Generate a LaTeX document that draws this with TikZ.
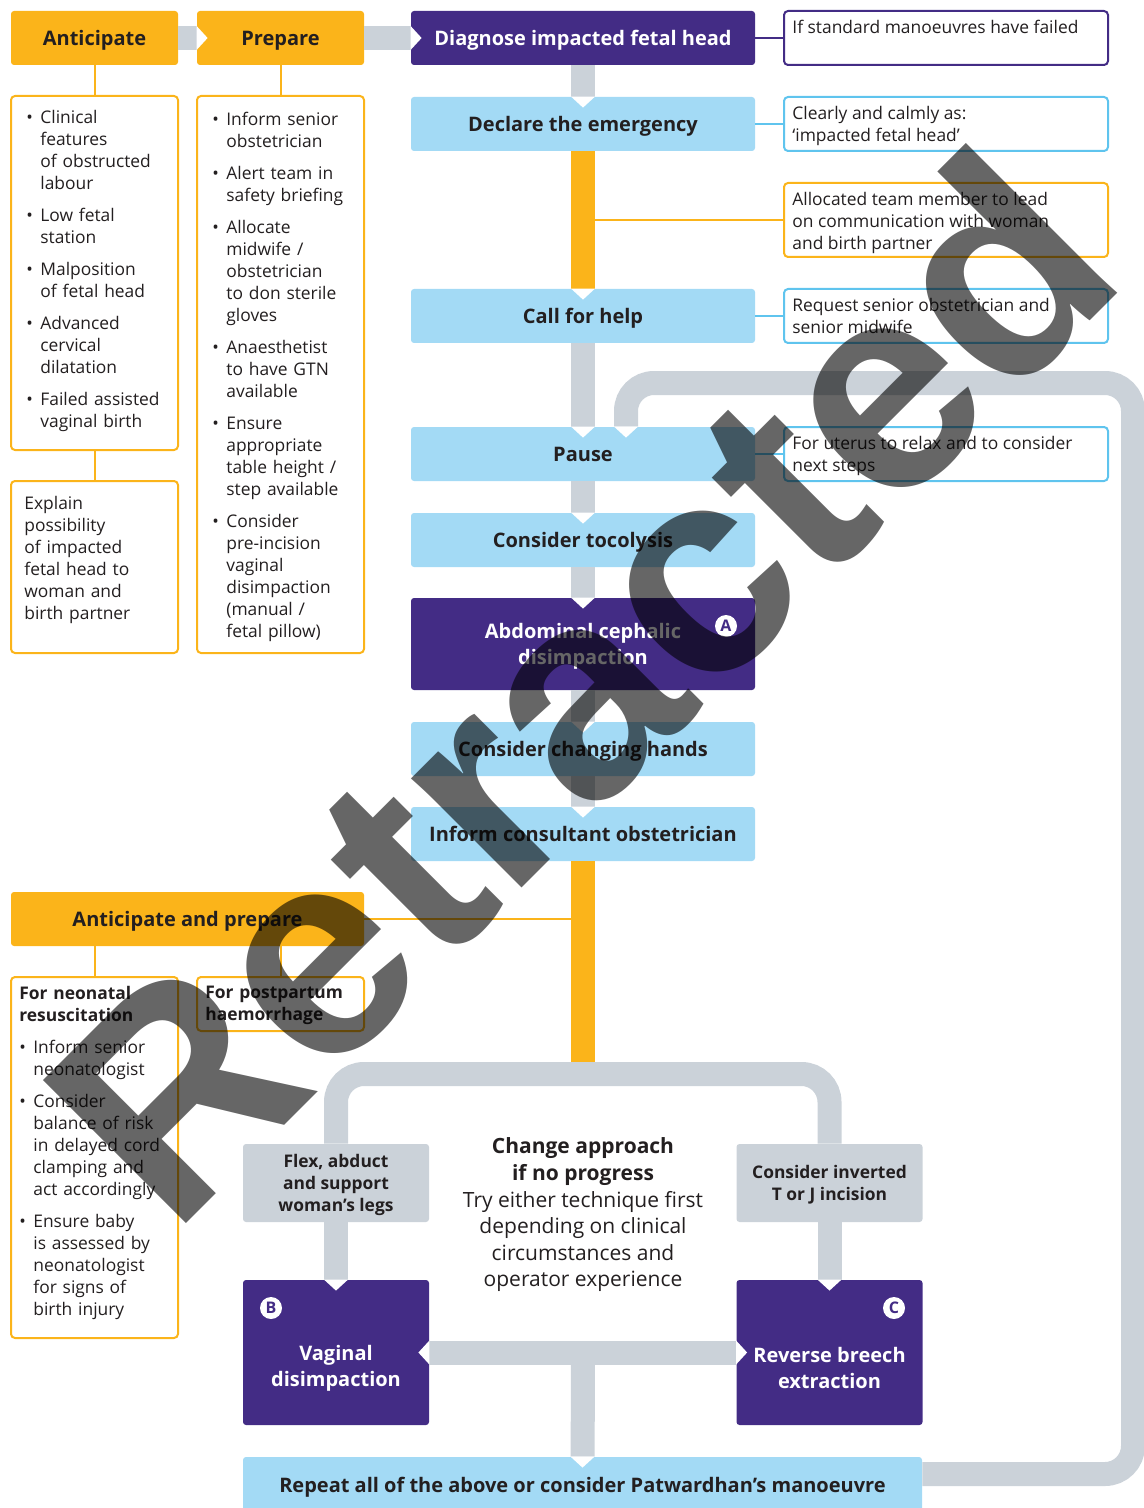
\documentclass[tikz,border=0pt]{standalone}
\usepackage{fontspec}
\setmainfont{Open Sans}
\newfontfamily\stampfont{Liberation Sans}
\usetikzlibrary{positioning}

\definecolor{ifhorange}{RGB}{251,180,26}
\definecolor{ifhpurple}{RGB}{67,44,133}
\definecolor{ifhblue}{RGB}{163,218,245}
\definecolor{ifhsky}{RGB}{95,196,238}
\definecolor{ifhgrey}{RGB}{203,210,217}
\definecolor{ifhtext}{RGB}{35,31,32}

% bullet item with hanging indent
\newcommand{\bul}[1]{\hangindent=7pt\hangafter=1\noindent\makebox[7pt][l]{\textbullet}#1\par}

\tikzset{
  box/.style={rounded corners=1.5pt, minimum width=172pt, minimum height=27pt, align=center, inner sep=0pt, text depth=0pt},
  headbox/.style={box, fill=ifhorange, text=ifhtext, font=\bfseries\fontsize{10}{13}\selectfont},
  darkbox/.style={box, fill=ifhpurple, text=white, font=\bfseries\fontsize{10}{13}\selectfont},
  lightbox/.style={box, fill=ifhblue, text=ifhtext, font=\bfseries\fontsize{10}{13}\selectfont},
  greybox/.style={box, fill=ifhgrey, text=ifhtext, minimum width=93pt, minimum height=39pt, font=\bfseries\fontsize{8.7}{11}\selectfont},
  note/.style={draw=ifhsky, line width=1pt, rounded corners=2pt, fill=white, minimum width=162pt, minimum height=27pt, inner sep=0pt},
  listbox/.style={draw=ifhorange, line width=1pt, rounded corners=2pt, fill=white, minimum width=83.5pt, inner sep=0pt},
  notetext/.style={anchor=north west, align=left, inner sep=0pt, text=ifhtext, font=\fontsize{8.7}{11}\selectfont},
  listtext/.style={anchor=north west, align=left, inner sep=0pt, text=ifhtext, font=\fontsize{8.7}{11}\selectfont\setlength{\parskip}{5pt}},
  badge/.style={circle, fill=white, text=ifhpurple, minimum size=11pt, inner sep=0pt, font=\bfseries\fontsize{8}{8}\selectfont},
  bar/.style={draw=ifhgrey, line width=12pt, rounded corners=14pt},
  obar/.style={draw=ifhorange, line width=12pt},
  link/.style={line width=1pt},
  stamp/.style={rotate=45, text=black, text opacity=0.6, inner sep=0pt, font=\stampfont\bfseries\fontsize{147}{147}\selectfont},
  notchdown/.pic={\fill[white] (-12,0) -- (12,0) -- (0,11) -- cycle;},
  notchright/.pic={\fill[white] (0,-12) -- (0,12) -- (11,0) -- cycle;},
  notchleft/.pic={\fill[white] (0,-12) -- (0,12) -- (-11,0) -- cycle;}
}

\begin{document}
\begin{tikzpicture}[x=0.5pt,y=-0.5pt]
\useasboundingbox (0,0) rectangle (1144,1508);

% top row
\node[headbox, minimum width=83.5pt] (antic) at (94.5,38) {Anticipate};
\node[headbox, minimum width=83.5pt] (prep) at (280.5,38) {Prepare};
\node[darkbox] (diag) at (583,38) {Diagnose impacted fetal head};
\node[note, draw=ifhpurple] (ifnote) at (946,38) {};
\node[notetext] (ifnotetxt) at (792,20) {If standard manoeuvres have failed};

% main column
\node[lightbox] (decl) at (583,124) {Declare the emergency};
\node[note] (clearly) at (946,124) {};
\node[notetext] (clearlytxt) at (792,106) {Clearly and calmly as:\\‘impacted fetal head’};
\node[note, draw=ifhorange, minimum height=37pt] (alloc) at (946,220) {};
\node[notetext] (alloctxt) at (792,192) {Allocated team member to lead\\on communication with woman\\and birth partner};
\node[lightbox] (call) at (583,316) {Call for help};
\node[note] (request) at (946,316) {};
\node[notetext] (requesttxt) at (792,298) {Request senior obstetrician and\\senior midwife};
\node[lightbox] (pause) at (583,454) {Pause};
\node[note] (uterus) at (946,454) {};
\node[notetext] (uterustxt) at (792,436) {For uterus to relax and to consider\\next steps};
\node[lightbox] (toco) at (583,540) {Consider tocolysis};
\node[darkbox, minimum height=46pt] (abdo) at (583,644) {Abdominal cephalic\\disimpaction};
\node[badge] (badgeA) at (726,626) {A};
\node[lightbox] (hands) at (583,749) {Consider changing hands};
\node[lightbox] (consult) at (583,834) {Inform consultant obstetrician};

% left columns
\node[listbox, minimum height=177pt] (anticlist) at (94.5,273) {};
\node[listtext, text width=76pt] (anticlisttxt) at (26,110) {\bul{Clinical\newline features\newline of obstructed\newline labour}\bul{Low fetal\newline station}\bul{Malposition\newline of fetal head}\bul{Advanced\newline cervical\newline dilatation}\bul{Failed assisted\newline vaginal birth}};
\node[listbox, minimum height=86pt] (explain) at (94.5,567) {};
\node[listtext, text width=75pt] (explaintxt) at (24,496) {Explain\newline possibility\newline of impacted\newline fetal head to\newline woman and\newline birth partner\par};
\node[listbox, minimum height=278.5pt] (preplist) at (280.5,374.5) {};
\node[listtext, text width=74pt] (preplisttxt) at (212,112) {\bul{Inform senior\newline obstetrician}\bul{Alert team in\newline safety briefing}\bul{Allocate\newline midwife /\newline obstetrician\newline to don sterile\newline gloves}\bul{Anaesthetist\newline to have GTN\newline available}\bul{Ensure\newline appropriate\newline table height /\newline step available}\bul{Consider\newline pre-incision\newline vaginal\newline disimpaction\newline (manual /\newline fetal pillow)}};

\node[headbox, minimum width=176.5pt] (antprep) at (187.5,919) {Anticipate and prepare};
\node[listbox, minimum height=180.5pt] (neo) at (94.5,1157.5) {};
\node[listtext, text width=78pt] (neotxt) at (19,986) {\noindent\textbf{For neonatal\newline resuscitation}\par\bul{Inform senior\newline neonatologist}\bul{Consider\newline balance of risk\newline in delayed cord\newline clamping and\newline act accordingly}\bul{Ensure baby\newline is assessed by\newline neonatologist\newline for signs of\newline birth injury}};
\node[listbox, minimum height=27pt] (pph) at (280.5,1004) {};
\node[listtext, text width=78pt] (pphtxt) at (205,986) {\textbf{For postpartum\newline haemorrhage}\par};

% bottom
\node[greybox] (flex) at (336,1183) {Flex, abduct\\and support\\woman’s legs};
\node[greybox] (invert) at (829.5,1183) {Consider inverted\\T or J incision};
\node[align=center, text=ifhtext, font=\fontsize{10.5}{13.3}\selectfont] (change) at (583,1215) {\textbf{Change approach}\\\textbf{if no progress}\\Try either technique first\\depending on clinical\\circumstances and\\operator experience};
\node[darkbox, minimum width=93pt, minimum height=72.5pt] (vagdis) at (336,1352.5) {};
\node[text=white, align=center, font=\bfseries\fontsize{10}{13}\selectfont] (vagdistxt) at (336,1368) {Vaginal\\disimpaction};
\node[darkbox, minimum width=93pt, minimum height=72.5pt] (revbreech) at (829.5,1352.5) {};
\node[text=white, align=center, font=\bfseries\fontsize{10}{13}\selectfont] (revbreechtxt) at (829.5,1368) {Reverse breech\\extraction};
\node[badge] (badgeB) at (271,1308) {B};
\node[badge] (badgeC) at (894,1308) {C};
\node[lightbox, minimum width=339.5pt, minimum height=28pt] (repeat) at (582.5,1485) {Repeat all of the above or consider Patwardhan’s manoeuvre};

\coordinate (archtop) at (583,1074);
\coordinate (hmid) at (583,1353);
\coordinate (loopR) at (1133,1474);
\coordinate (loopT) at (1133,383);
\coordinate (pausein) at ([xshift=21.5pt]pause.north);

% thin links
\draw[link, ifhpurple] (diag) -- (ifnote);
\draw[link, ifhsky] (decl) -- (clearly);
\draw[link, ifhsky] (call) -- (request);
\draw[link, ifhsky] (pause) -- (uterus);
\draw[link, ifhorange] (alloc.west) -- (alloc.west -| decl.south);
\draw[link, ifhorange] (antprep.east) -- (antprep.east -| consult.south);
\draw[link, ifhorange] (antic) -- (anticlist);
\draw[link, ifhorange] (anticlist) -- (explain);
\draw[link, ifhorange] (prep) -- (preplist);
\draw[link, ifhorange] (neo.north |- antprep.south) -- (neo);
\draw[link, ifhorange] (pph.north |- antprep.south) -- (pph);

% flow bars
\draw[bar] (antic) -- (prep);
\draw[bar] (prep) -- (diag);
\draw[bar] (diag) -- (decl);
\draw[obar] (decl) -- (call);
\draw[bar] (call) -- (pause);
\draw[bar] (pause) -- (toco);
\draw[bar] (toco) -- (abdo);
\draw[bar] (abdo) -- (hands);
\draw[bar] (hands) -- (consult);
\draw[obar] (consult.south) -- (archtop);
\draw[bar] (flex) |- (archtop) -| (invert);
\draw[bar] (flex) -- (vagdis);
\draw[bar] (invert) -- (revbreech);
\draw[bar] (vagdis) -- (revbreech);
\draw[bar] (hmid) -- (repeat);
\draw[bar] (repeat.east |- loopR) -- (loopR) -- (loopT) -| (pausein);

% notches
\pic at (prep.west) {notchright};
\pic at (diag.west) {notchright};
\foreach \n in {decl,call,pause,toco,abdo,hands,consult,vagdis,revbreech,repeat}
  \pic at (\n.north) {notchdown};
\pic at (pausein) {notchdown};
\pic at (vagdis.east) {notchleft};
\pic at (revbreech.west) {notchright};

% watermark
\node[stamp] (retracted) at (578,684) {Retracted};
\end{tikzpicture}
\end{document}
